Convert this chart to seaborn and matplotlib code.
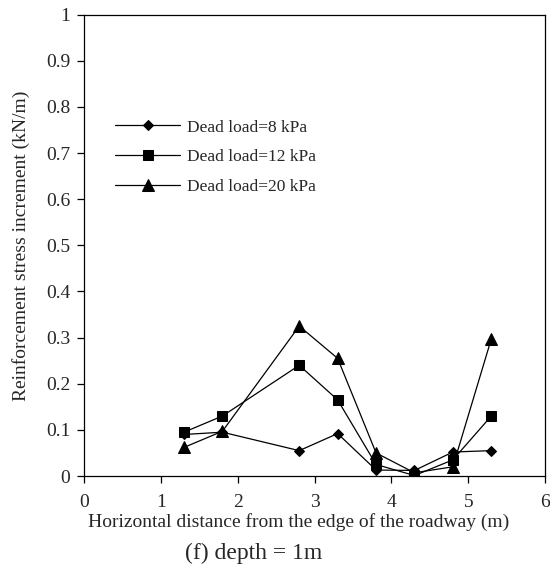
import pandas as pd
import matplotlib
matplotlib.use("Agg")
import matplotlib.pyplot as plt
import seaborn as sns

# values
distance = [1.3, 1.8, 2.8, 3.3, 3.8, 4.3, 4.8, 5.3]
load_8kpa = [0.090, 0.095, 0.055, 0.092, 0.013, 0.012, 0.052, 0.055]
load_12kpa = [0.095, 0.130, 0.240, 0.165, 0.025, 0.001, 0.035, 0.130]
load_20kpa = [0.062, 0.097, 0.325, 0.255, 0.050, 0.007, 0.020, 0.297]
series_names = ["Dead load=8 kPa", "Dead load=12 kPa", "Dead load=20 kPa"]

sns.set_style("ticks")
plt.rcParams['font.family'] = ['Liberation Serif', 'DejaVu Serif']

df = pd.concat([
    pd.DataFrame({'x': distance, 'y': vals, 'load': name})
    for name, vals in zip(series_names, [load_8kpa, load_12kpa, load_20kpa])
])

fig = plt.figure(figsize=(5.5, 5.66), dpi=100)
ax = fig.add_axes([0.153, 0.159, 0.838, 0.815])

markers = {series_names[0]: 'D', series_names[1]: 's', series_names[2]: '^'}
sizes = {series_names[0]: 5, series_names[1]: 7, series_names[2]: 9}
for name in series_names:
    sns.lineplot(data=df[df['load'] == name], x='x', y='y', ax=ax, color='black',
                 linewidth=0.9, marker=markers[name], markersize=sizes[name],
                 markeredgecolor='black', label=name, sort=False)

ax.set_xlim(0, 6)
ax.set_ylim(0, 1)
ax.set_xticks(range(0, 7))
ax.set_yticks([i / 10 for i in range(0, 11)])
ax.set_yticklabels(['0'] + [f'{i / 10:.1f}' for i in range(1, 10)] + ['1'])
ax.tick_params(labelsize=14, length=5, width=0.9, color='black', direction='out', pad=5)
ax.tick_params(axis='x', pad=8)
for sp in ax.spines.values():
    sp.set_color('black')
    sp.set_linewidth(0.9)

ax.set_xlabel('Horizontal distance from the edge of the roadway (m)', fontsize=14)
ax.set_ylabel('Reinforcement stress increment (kN/m)', fontsize=14)
ax.xaxis.set_label_coords(0.465, -0.08)
ax.yaxis.set_label_coords(-0.117, 0.5)

leg = ax.legend(loc='upper left', bbox_to_anchor=(0.033, 0.807), frameon=False,
                fontsize=12.5, handlelength=3.75, handletextpad=0.4, labelspacing=0.78)

fig.text(0.462, 0.023, '(f) depth = 1m', ha='center', va='center', fontsize=17)

fig.savefig('out.png', dpi=100)
